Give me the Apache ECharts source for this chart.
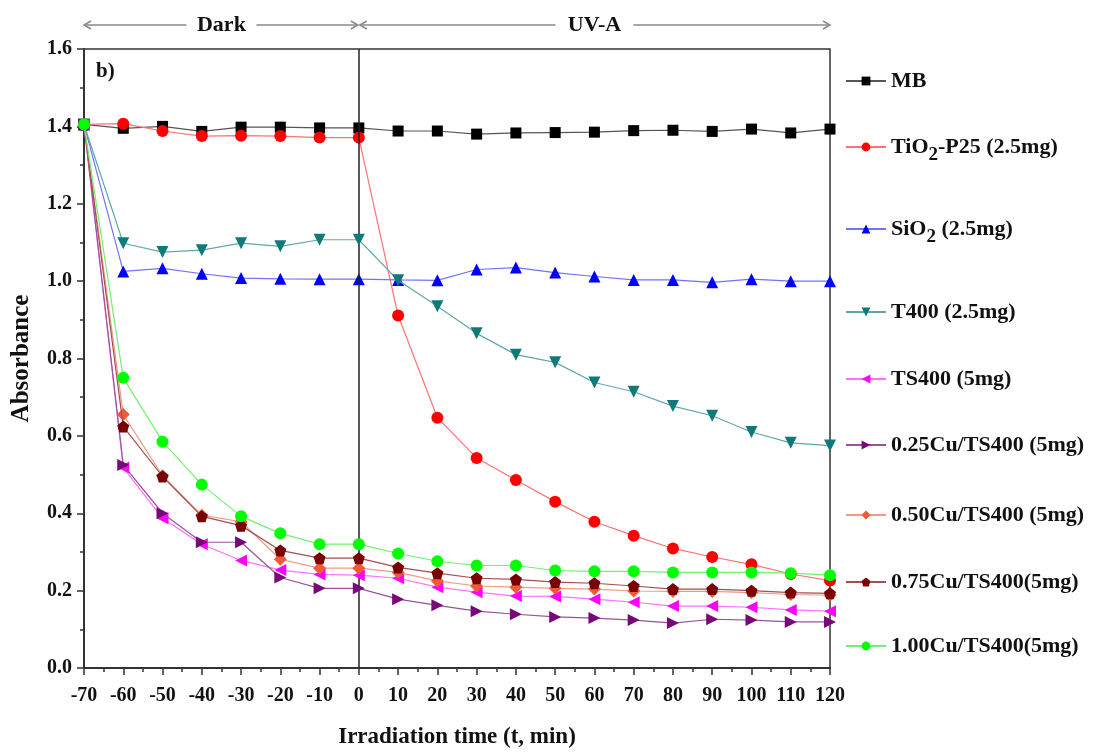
<!DOCTYPE html>
<html>
<head>
<meta charset="utf-8">
<script src="https://cdn.jsdelivr.net/npm/echarts@6/dist/echarts.min.js"></script>
<style>
  html, body { margin: 0; padding: 0; background: #fff; }
  #chart { width: 1098px; height: 755px; }
</style>
</head>
<body>
<div id="chart"></div>
<script>
// Irradiation time (min); negative times are the dark adsorption period
const times = [-70, -60, -50, -40, -30, -20, -10, 0, 10, 20, 30, 40, 50, 60, 70, 80, 90, 100, 110, 120];

// Absorbance readings per sample
const mb      = [1.405, 1.395, 1.400, 1.387, 1.398, 1.398, 1.396, 1.396, 1.388, 1.388, 1.380, 1.383, 1.384, 1.385, 1.389, 1.390, 1.387, 1.393, 1.383, 1.393];
const tio2    = [1.405, 1.407, 1.388, 1.375, 1.376, 1.375, 1.371, 1.371, 0.911, 0.647, 0.543, 0.486, 0.430, 0.378, 0.342, 0.309, 0.287, 0.268, 0.243, 0.226];
const sio2    = [1.405, 1.025, 1.033, 1.019, 1.008, 1.006, 1.005, 1.005, 1.003, 1.002, 1.030, 1.035, 1.022, 1.012, 1.003, 1.003, 0.997, 1.005, 1.000, 1.000];
const t400    = [1.405, 1.098, 1.075, 1.080, 1.098, 1.090, 1.107, 1.107, 1.002, 0.935, 0.865, 0.810, 0.790, 0.738, 0.714, 0.677, 0.652, 0.610, 0.582, 0.575];
const ts400   = [1.405, 0.518, 0.387, 0.320, 0.278, 0.253, 0.242, 0.240, 0.232, 0.209, 0.196, 0.186, 0.185, 0.178, 0.170, 0.160, 0.160, 0.157, 0.150, 0.147];
const cu025   = [1.405, 0.525, 0.400, 0.325, 0.325, 0.234, 0.206, 0.206, 0.178, 0.162, 0.147, 0.139, 0.132, 0.129, 0.124, 0.116, 0.126, 0.124, 0.119, 0.119];
const cu050   = [1.405, 0.655, 0.497, 0.395, 0.378, 0.281, 0.258, 0.258, 0.247, 0.225, 0.212, 0.209, 0.206, 0.204, 0.199, 0.198, 0.198, 0.195, 0.190, 0.188];
const cu075   = [1.405, 0.624, 0.495, 0.392, 0.368, 0.304, 0.284, 0.284, 0.260, 0.245, 0.232, 0.229, 0.222, 0.219, 0.212, 0.204, 0.204, 0.200, 0.195, 0.193];
const cu100   = [1.405, 0.750, 0.585, 0.474, 0.392, 0.348, 0.320, 0.320, 0.296, 0.276, 0.265, 0.265, 0.252, 0.250, 0.250, 0.247, 0.247, 0.247, 0.245, 0.240];

const seriesNames = [
  'MB', 'TiO2-P25 (2.5mg)', 'SiO2 (2.5mg)', 'T400 (2.5mg)', 'TS400 (5mg)',
  '0.25Cu/TS400 (5mg)', '0.50Cu/TS400 (5mg)', '0.75Cu/TS400(5mg)', '1.00Cu/TS400(5mg)'
];
const seriesValues = [mb, tio2, sio2, t400, ts400, cu025, cu050, cu075, cu100];

// Axis ticks
const yTicks = { min: 0, max: 1.6, step: 0.2 };
const xTicks = { min: -70, max: 120, step: 10 };

// Header labels above the plot
const phaseLabels = ['Dark', 'UV-A'];

const FONT = '"Liberation Serif", "Times New Roman", serif';
const PENTAGON = 'path://M0,-1 L0.951,-0.309 L0.588,0.809 L-0.588,0.809 L-0.951,-0.309 Z';

const styles = [
  { symbol: 'rect',     rotate: 0,   marker: '#000000', line: '#555555' },
  { symbol: 'circle',   rotate: 0,   marker: '#ff0000', line: '#ff7272' },
  { symbol: 'triangle', rotate: 0,   marker: '#0000ff', line: '#7272ff' },
  { symbol: 'triangle', rotate: 180, marker: '#107a7a', line: '#62a8a8' },
  { symbol: 'triangle', rotate: 90,  marker: '#ff00ff', line: '#ff72ff' },
  { symbol: 'triangle', rotate: -90, marker: '#780878', line: '#9a529a' },
  { symbol: 'diamond',  rotate: 0,   marker: '#f05a3a', line: '#f09a84' },
  { symbol: PENTAGON,   rotate: 0,   marker: '#780000', line: '#a05050' },
  { symbol: 'circle',   rotate: 0,   marker: '#00ff00', line: '#72f072' }
];

// Legend row tops, listed top to bottom
const legendTops = [65, 131, 213, 296, 363, 429, 499, 566, 630];

const textBase = { fontFamily: FONT, fontWeight: 'bold', color: '#111' };

const series = seriesNames.map((name, i) => {
  const s = {
    name: name,
    type: 'line',
    data: times.map((t, k) => [t, seriesValues[i][k]]),
    symbol: styles[i].symbol,
    symbolRotate: styles[i].rotate,
    symbolSize: styles[i].symbol === 'rect' ? 11 : (styles[i].symbol === 'diamond' ? 13 : 12),
    showAllSymbol: true,
    itemStyle: { color: styles[i].marker, borderWidth: 0 },
    lineStyle: { color: styles[i].line, width: 1.2 },
    emphasis: { disabled: true },
    z: 2 + i
  };
  if (i === 0) {
    // vertical divider at t = 0 (lamp switched on)
    s.markLine = {
      silent: true,
      symbol: ['none', 'none'],
      label: { show: false },
      lineStyle: { color: '#222', width: 1.5, type: 'solid' },
      data: [{ xAxis: 0 }],
      animation: false
    };
  }
  return s;
});

function legendLabel(name) {
  if (name.indexOf('O2') >= 0) {
    return '{t|' + name.replace('O2', 'O}{s|2}{t|') + '}';
  }
  return '{t|' + name + '}';
}

const legends = seriesNames.map((name, i) => ({
  data: [name],
  left: 840,
  top: legendTops[i],
  orient: 'vertical',
  itemWidth: 40,
  itemHeight: 11,
  itemGap: 0,
  selectedMode: false,
  formatter: legendLabel,
  textStyle: {
    rich: {
      t: Object.assign({ fontSize: 22 }, textBase),
      s: Object.assign({ fontSize: 19, padding: [16, 0, 0, 0] }, textBase)
    }
  }
}));

const chart = echarts.init(document.getElementById('chart'), null, { renderer: 'canvas' });

const axisCommon = {
  axisLine: { show: true, onZero: false, lineStyle: { color: '#333', width: 2 } },
  axisTick: { show: true, inside: false, length: 7, lineStyle: { color: '#333', width: 1.5 } },
  minorTick: { show: true, splitNumber: 2, length: 4, lineStyle: { color: '#333', width: 1.5 } },
  splitLine: { show: false },
  minorSplitLine: { show: false }
};

chart.setOption({
  animation: false,
  backgroundColor: '#ffffff',
  grid: {
    left: 84, right: 268, top: 49, bottom: 87,
    show: true, borderColor: '#333', borderWidth: 1.5, backgroundColor: 'transparent'
  },
  xAxis: Object.assign({
    type: 'value',
    min: xTicks.min, max: xTicks.max, interval: xTicks.step,
    name: 'Irradiation time (t, min)',
    nameLocation: 'middle',
    nameGap: 58,
    nameTextStyle: Object.assign({ fontSize: 23 }, textBase),
    axisLabel: Object.assign({ fontSize: 20, margin: 18 }, textBase)
  }, axisCommon),
  yAxis: Object.assign({
    type: 'value',
    min: yTicks.min, max: yTicks.max, interval: yTicks.step,
    name: 'Absorbance',
    nameLocation: 'middle',
    nameGap: 50,
    nameTextStyle: Object.assign({ fontSize: 25 }, textBase),
    axisLabel: Object.assign({ fontSize: 20, margin: 12, formatter: v => v.toFixed(1) }, textBase)
  }, axisCommon),
  legend: legends,
  series: series
});

// Phase header arrows and panel tag, placed from the axis scale
function px(t) { return chart.convertToPixel({ xAxisIndex: 0 }, t); }
function py(v) { return chart.convertToPixel({ yAxisIndex: 0 }, v); }

const xStart = px(xTicks.min), xSwitch = px(0), xEnd = px(xTicks.max);
const headY = 25;
const arrowStyle = { stroke: '#8a8a8a', lineWidth: 1.5, fill: null };

function segment(x1, x2) {
  return { type: 'line', shape: { x1: x1, y1: headY, x2: x2, y2: headY }, style: arrowStyle, silent: true };
}
function head(x, dir) {
  return {
    type: 'polyline',
    shape: { points: [[x - dir * 7, headY - 4], [x, headY], [x - dir * 7, headY + 4]] },
    style: arrowStyle, silent: true
  };
}
function phaseText(text, cx) {
  return {
    type: 'text', x: cx, y: headY, silent: true,
    style: { text: text, font: 'bold 22px ' + FONT, fill: '#111', align: 'center', verticalAlign: 'middle' }
  };
}

const darkMid = (xStart + xSwitch) / 2;
const uvMid = (xSwitch + xEnd) / 2;
const darkHalf = 35, uvHalf = 39;

chart.setOption({
  graphic: [
    segment(xStart, darkMid - darkHalf), segment(darkMid + darkHalf, xSwitch - 1),
    head(xStart, -1), head(xSwitch - 1, 1),
    phaseText(phaseLabels[0], darkMid),
    segment(xSwitch + 1, uvMid - uvHalf), segment(uvMid + uvHalf, xEnd),
    head(xSwitch + 1, -1), head(xEnd, 1),
    phaseText(phaseLabels[1], uvMid),
    {
      type: 'text', x: xStart + 12, y: py(yTicks.max) + 12, silent: true,
      style: { text: 'b)', font: 'bold 21px ' + FONT, fill: '#111' }
    }
  ]
});
</script>
</body>
</html>
